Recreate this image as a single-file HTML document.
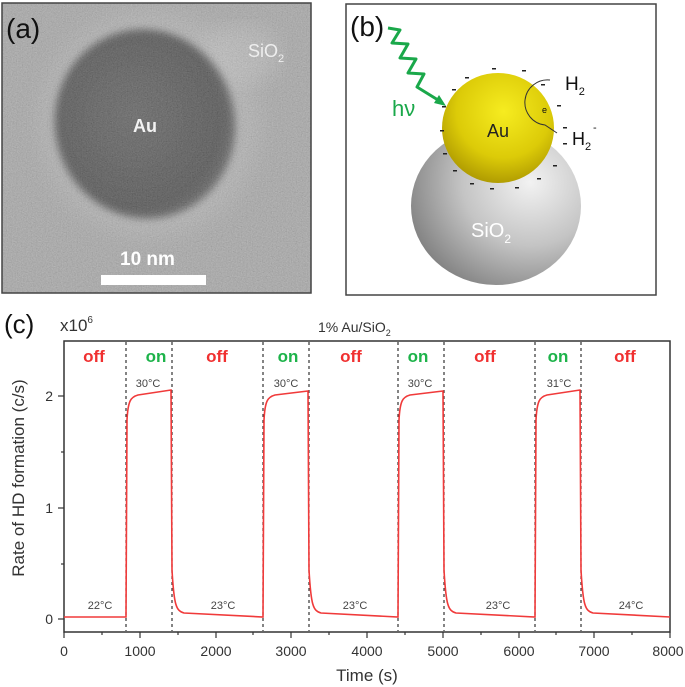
<!DOCTYPE html>
<html><head><meta charset="utf-8"><style>
html,body{margin:0;padding:0;background:#fff;}
svg{display:block;font-family:"Liberation Sans",Arial,sans-serif;}
</style></head><body>
<svg width="685" height="687" viewBox="0 0 685 687" xmlns="http://www.w3.org/2000/svg">
<defs>
<filter id="noise" x="0" y="0" width="100%" height="100%">
<feTurbulence type="fractalNoise" baseFrequency="0.8" numOctaves="2" seed="3"/>
<feColorMatrix type="matrix" values="0.33 0.33 0.33 0 0  0.33 0.33 0.33 0 0  0.33 0.33 0.33 0 0  0 0 0 0 1"/>
</filter>
<filter id="blur"><feGaussianBlur stdDeviation="4"/></filter>
<filter id="blur2"><feGaussianBlur stdDeviation="10"/></filter>
<radialGradient id="pg" cx="0.45" cy="0.45" r="0.6">
<stop offset="0" stop-color="#505050"/><stop offset="0.8" stop-color="#3a3a3a"/><stop offset="1" stop-color="#555"/>
</radialGradient>
<radialGradient id="au" cx="0.55" cy="0.35" r="0.7">
<stop offset="0" stop-color="#f6ec20"/><stop offset="0.6" stop-color="#dccb08"/><stop offset="1" stop-color="#a89300"/>
</radialGradient>
<radialGradient id="si" cx="0.7" cy="0.35" r="0.8">
<stop offset="0" stop-color="#f2f2f2"/><stop offset="0.5" stop-color="#c4c4c4"/><stop offset="1" stop-color="#7a7a7a"/>
</radialGradient>
</defs>

<!-- Panel a -->
<rect x="2" y="3" width="309" height="290" fill="#a4a4a4"/>
<ellipse cx="150" cy="124" rx="110" ry="112" fill="#bdbdbd" filter="url(#blur2)" opacity="0.5"/>
<ellipse cx="240" cy="55" rx="40" ry="30" fill="#c8c8c8" filter="url(#blur2)" opacity="0.5"/>
<ellipse cx="145" cy="124" rx="90" ry="95" fill="url(#pg)" transform="rotate(-15 145 124)" filter="url(#blur)"/>
<rect x="2" y="3" width="309" height="290" filter="url(#noise)" opacity="0.35"/>
<rect x="2" y="3" width="309" height="290" fill="none" stroke="#444" stroke-width="1.5"/>
<text x="6" y="38" font-size="28" fill="#111">(a)</text>
<text x="248" y="57" font-size="18" fill="#eee">SiO<tspan font-size="11" dy="5">2</tspan></text>
<text x="133" y="132" font-size="18" fill="#f2f2f2" font-weight="bold">Au</text>
<text x="120" y="265" font-size="19" fill="#fff" font-weight="bold">10 nm</text>
<rect x="101" y="275" width="105" height="10" fill="#fff"/>

<!-- Panel b -->
<rect x="346" y="4" width="310" height="291" fill="#fff" stroke="#444" stroke-width="1.5"/>
<text x="350" y="36" font-size="28" fill="#111">(b)</text>
<ellipse cx="496" cy="206" rx="85" ry="79" fill="url(#si)"/>
<ellipse cx="498" cy="128" rx="56" ry="55" fill="url(#au)"/>
<text x="487" y="137" font-size="18" fill="#222">Au</text>
<text x="471" y="237" font-size="20" fill="#fff">SiO<tspan font-size="12" dy="6">2</tspan></text>
<path d="M388,28 L400,30 L392,43 L408,44 L400,58 L416,59 L408,73 L424,74 L417,87 L438,100" fill="none" stroke="#1aa84a" stroke-width="3" stroke-linejoin="round"/>
<path d="M446,106 l-12,-3 5,-8z" fill="#1aa84a"/>
<text x="392" y="116" font-size="22" fill="#1aa84a">hν</text>
<path d="M550,80 A20,20 0 0 0 545,125 L557,133" fill="none" stroke="#333" stroke-width="1"/>
<text x="565" y="90" font-size="19" fill="#111">H<tspan font-size="11" dy="5">2</tspan></text>
<text x="572" y="145" font-size="18" fill="#111">H<tspan font-size="11" dy="5">2</tspan></text>
<text x="593" y="131" font-size="11" fill="#111">-</text>
<text x="542" y="113" font-size="9" fill="#111">e</text>
<g fill="#222">
<rect x="492" y="68" width="4" height="1.5"/><rect x="522" y="70" width="4" height="1.5"/><rect x="465" y="77" width="4" height="1.5"/>
<rect x="541" y="84" width="4" height="1.5"/><rect x="452" y="89" width="4" height="1.5"/><rect x="442" y="106" width="4" height="1.5"/>
<rect x="557" y="105" width="4" height="1.5"/><rect x="563" y="127" width="4" height="1.5"/><rect x="440" y="130" width="4" height="1.5"/>
<rect x="443" y="153" width="4" height="1.5"/><rect x="553" y="165" width="4" height="1.5"/><rect x="453" y="170" width="4" height="1.5"/>
<rect x="470" y="183" width="4" height="1.5"/><rect x="490" y="188" width="4" height="1.5"/><rect x="515" y="187" width="4" height="1.5"/>
<rect x="537" y="178" width="4" height="1.5"/><rect x="563" y="143" width="4" height="1.5"/>
</g>

<!-- Panel c -->
<text x="4" y="333" font-size="26" fill="#111">(c)</text>
<text x="60" y="331" font-size="17" fill="#333">x10<tspan font-size="10" dy="-8">6</tspan></text>
<text x="318" y="332" font-size="14" fill="#333">1% Au/SiO<tspan font-size="9" dy="4">2</tspan></text>
<rect x="64" y="341" width="606" height="291" fill="none" stroke="#333" stroke-width="1.5"/>
<g stroke="#333" stroke-width="1.2" stroke-dasharray="3,3">
<line x1="126" y1="342" x2="126" y2="631"/><line x1="172" y1="342" x2="172" y2="631"/>
<line x1="263" y1="342" x2="263" y2="631"/><line x1="309" y1="342" x2="309" y2="631"/>
<line x1="398" y1="342" x2="398" y2="631"/><line x1="444" y1="342" x2="444" y2="631"/>
<line x1="535" y1="342" x2="535" y2="631"/><line x1="581" y1="342" x2="581" y2="631"/>
</g>
<g stroke="#333" stroke-width="1.2">
<line x1="64" y1="632" x2="64" y2="638"/><line x1="102" y1="632" x2="102" y2="635"/><line x1="140" y1="632" x2="140" y2="638"/>
<line x1="178" y1="632" x2="178" y2="635"/><line x1="216" y1="632" x2="216" y2="638"/><line x1="253" y1="632" x2="253" y2="635"/>
<line x1="291" y1="632" x2="291" y2="638"/><line x1="329" y1="632" x2="329" y2="635"/><line x1="367" y1="632" x2="367" y2="638"/>
<line x1="405" y1="632" x2="405" y2="635"/><line x1="443" y1="632" x2="443" y2="638"/><line x1="481" y1="632" x2="481" y2="635"/>
<line x1="519" y1="632" x2="519" y2="638"/><line x1="556" y1="632" x2="556" y2="635"/><line x1="594" y1="632" x2="594" y2="638"/>
<line x1="632" y1="632" x2="632" y2="635"/><line x1="670" y1="632" x2="670" y2="638"/>
<line x1="58" y1="619" x2="64" y2="619"/><line x1="61" y1="564" x2="64" y2="564"/><line x1="58" y1="508" x2="64" y2="508"/>
<line x1="61" y1="452" x2="64" y2="452"/><line x1="58" y1="396" x2="64" y2="396"/>
</g>
<g font-size="14" fill="#333" text-anchor="middle">
<text x="64" y="656">0</text><text x="140" y="656">1000</text><text x="216" y="656">2000</text><text x="291" y="656">3000</text>
<text x="367" y="656">4000</text><text x="443" y="656">5000</text><text x="519" y="656">6000</text><text x="594" y="656">7000</text><text x="668" y="656">8000</text>
</g>
<g font-size="14" fill="#333" text-anchor="end">
<text x="53" y="624">0</text><text x="53" y="513">1</text><text x="53" y="401">2</text>
</g>
<text x="367" y="681" font-size="17" fill="#333" text-anchor="middle">Time (s)</text>
<text transform="translate(24 478) rotate(-90)" font-size="17" fill="#333" text-anchor="middle">Rate of HD formation (c/s)</text>

<g font-size="17" font-weight="bold" text-anchor="middle">
<text x="94" y="362" fill="#f03030">off</text><text x="217" y="362" fill="#f03030">off</text><text x="351" y="362" fill="#f03030">off</text>
<text x="485" y="362" fill="#f03030">off</text><text x="625" y="362" fill="#f03030">off</text>
<text x="156" y="362" fill="#1db34a">on</text><text x="288" y="362" fill="#1db34a">on</text><text x="418" y="362" fill="#1db34a">on</text><text x="558" y="362" fill="#1db34a">on</text>
</g>
<g font-size="11" fill="#444" text-anchor="middle">
<text x="148" y="387">30°C</text><text x="286" y="387">30°C</text><text x="420" y="387">30°C</text><text x="559" y="387">31°C</text>
<text x="100" y="609">22°C</text><text x="223" y="609">23°C</text><text x="355" y="609">23°C</text><text x="498" y="609">23°C</text><text x="631" y="609">24°C</text>
</g>
<path fill="none" stroke="#f03a3a" stroke-width="1.6" d="
M64,617 L126,617 L127,420 C128,400 131,397 138,395 L171,390
L172,570 C174,605 176,611 184,613 L263,617
L264,420 C265,400 268,397 275,395 L308,391
L309,570 C311,605 313,611 321,613 L398,617
L399,420 C400,400 403,397 410,395 L443,391
L444,570 C446,605 448,611 456,613 L535,617
L536,420 C537,400 540,397 547,395 L580,390
L581,570 C583,605 585,611 593,613 L670,617"/>
</svg>
</body></html>
